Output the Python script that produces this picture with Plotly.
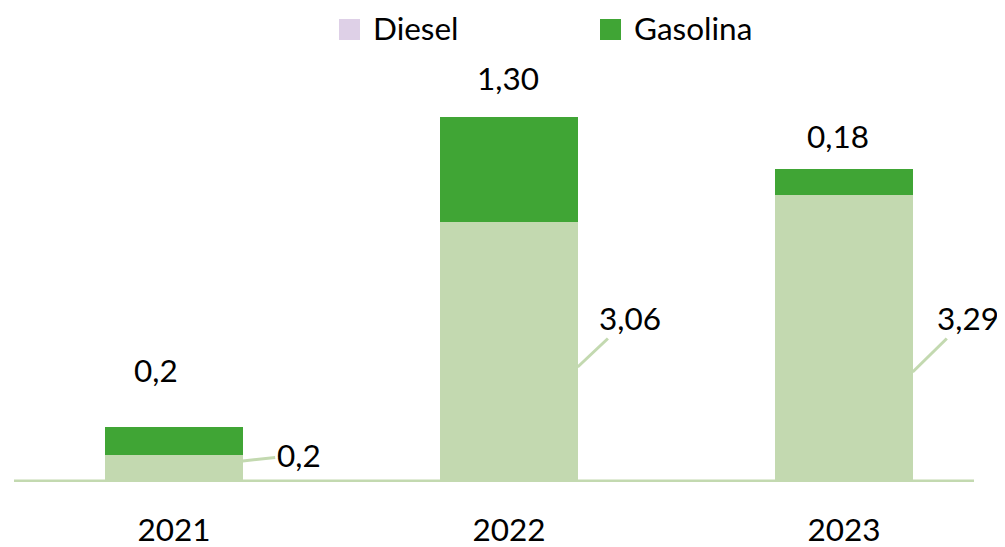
import plotly.graph_objects as go

# ---- data ----
years = ["2021", "2022", "2023"]
diesel = [0.31, 3.02, 3.34]
gasolina = [0.33, 1.23, 0.30]
diesel_labels = ["0,2", "3,06", "3,29"]
gasolina_labels = ["0,2", "1,30", "0,18"]

# ---- styling / positions ----
C_DIESEL = "#c3d9b0"
C_GAS = "#40a535"
C_LEG_DIESEL = "#ded0e7"
FONT = "Lato"
FS = 31.5
OFF = 8  # default page body margin
W, H = 1005 - OFF, 547 - OFF
BASE = 482 - OFF  # baseline pixel in figure coords
MT = 0
MB = H - BASE
PLOT_H = H - MT - MB
SCALE = 86.0  # px per unit
BAR_W = 0.41
SPACING = 335.0

gas_label_shift = [(-18, 57), (-1, 39), (-6, 33)]
leader_anchor_px = [21, 115, 110]  # px above baseline at bar edge
leader_offset = [(56, -6), (52, -49), (55, -54)]

fig = go.Figure()
fig.add_trace(go.Bar(x=years, y=diesel, name="Diesel", marker_color=C_DIESEL,
                     width=BAR_W, marker_line_width=0))
fig.add_trace(go.Bar(x=years, y=gasolina, name="Gasolina", marker_color=C_GAS,
                     width=BAR_W, marker_line_width=0))

annotations = []
for i, y in enumerate(years):
    tot = diesel[i] + gasolina[i]
    dx, dy = gas_label_shift[i]
    annotations.append(dict(x=i, y=tot, xref="x", yref="y", text=gasolina_labels[i],
                            showarrow=False, xshift=dx, yshift=dy, yanchor="middle",
                            font=dict(family=FONT, size=FS, color="#000")))
    ax, ay = leader_offset[i]
    annotations.append(dict(x=i + BAR_W / 2, y=leader_anchor_px[i] / SCALE, xref="x", yref="y",
                            text=diesel_labels[i], showarrow=True, arrowhead=0,
                            arrowwidth=3, arrowcolor=C_DIESEL, ax=ax, ay=ay,
                            font=dict(family=FONT, size=FS, color="#000")))

# custom legend (positions given in page pixels)
def px(p):
    return (p - OFF) / W

def py(p):
    return 1 - (p - OFF - MT) / PLOT_H

shapes = []
legend_items = [("Diesel", C_LEG_DIESEL, 339, 371), ("Gasolina", C_GAS, 600, 632)]
for name, col, sx, tx in legend_items:
    shapes.append(dict(type="rect", xref="paper", yref="paper", x0=px(sx), x1=px(sx + 21),
                       y0=py(40), y1=py(19), fillcolor=col, line_width=0))
    annotations.append(dict(x=px(tx), y=py(27.5), xref="paper", yref="paper", text=name,
                            showarrow=False, xanchor="left", yanchor="middle",
                            font=dict(family=FONT, size=FS, color="#000")))

# baseline
shapes.append(dict(type="line", xref="paper", yref="y", x0=px(14), x1=px(974), y0=0, y1=0,
                   line=dict(color=C_DIESEL, width=5)))

x0 = -(174 - OFF) / SPACING
fig.update_layout(
    barmode="stack",
    width=W, height=H,
    margin=dict(l=0, r=0, t=MT, b=MB),
    paper_bgcolor="white", plot_bgcolor="white",
    showlegend=False,
    annotations=annotations,
    shapes=shapes,
    xaxis=dict(range=[x0, x0 + W / SPACING], showgrid=False, zeroline=False, showline=False,
               ticks="", tickfont=dict(family=FONT, size=FS, color="#000"),
               ticklabelstandoff=26),
    yaxis=dict(range=[0, PLOT_H / SCALE], visible=False),
    font=dict(family=FONT, size=FS, color="#000"),
)

fig.write_html("out.html")
